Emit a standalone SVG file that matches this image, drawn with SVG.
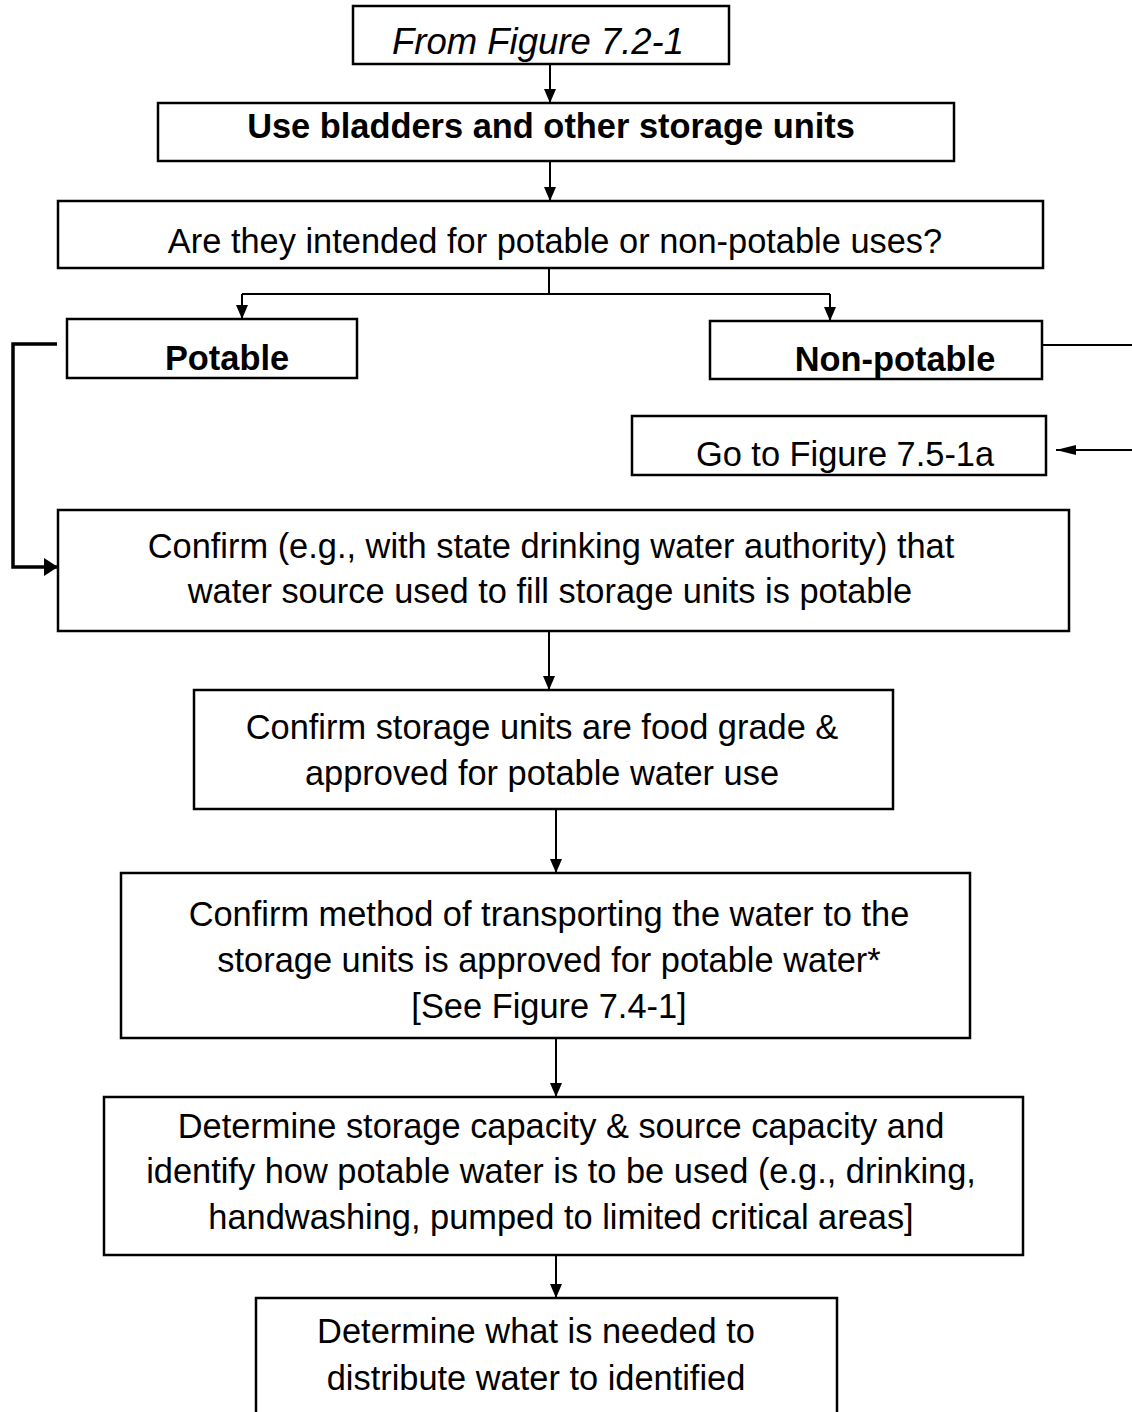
<svg xmlns="http://www.w3.org/2000/svg" width="1132" height="1412" viewBox="0 0 1132 1412">
<defs>
<marker id="ah" markerUnits="userSpaceOnUse" markerWidth="14" markerHeight="12" viewBox="0 0 14 12" refX="14" refY="6" orient="auto">
<path d="M0,0 L14,6 L0,12 Z" fill="#000"/>
</marker>
<marker id="ahb" markerUnits="userSpaceOnUse" markerWidth="14" markerHeight="18" viewBox="0 0 14 18" refX="14" refY="9" orient="auto">
<path d="M0,0 L14,9 L0,18 Z" fill="#000"/>
</marker>
<marker id="ahl" markerUnits="userSpaceOnUse" markerWidth="20" markerHeight="10" viewBox="0 0 20 10" refX="20" refY="5" orient="auto">
<path d="M0,0 L20,5 L0,10 Z" fill="#000"/>
</marker>
</defs>
<style>
.box{fill:#fff;stroke:#000;stroke-width:2.5}
.t{font-family:"Liberation Sans",Arial,sans-serif;font-size:34.4px;fill:#000;text-anchor:middle}
.b{font-weight:bold}
.i{font-style:italic;font-size:36.5px}
.c{fill:none;stroke:#000;stroke-width:2}
</style>
<rect width="1132" height="1412" fill="#fff"/>
<g id="connectors">
<line class="c" x1="550" y1="64" x2="550" y2="103" marker-end="url(#ah)"/>
<line class="c" x1="550" y1="161" x2="550" y2="201" marker-end="url(#ah)"/>
<polyline class="c" points="549,268 549,294"/>
<polyline class="c" points="242,294 830,294"/>
<line class="c" x1="242" y1="294" x2="242" y2="319" marker-end="url(#ah)"/>
<line class="c" x1="830" y1="294" x2="830" y2="321" marker-end="url(#ah)"/>
<polyline fill="none" stroke="#000" stroke-width="3.5" points="57,344 13,344 13,567 58,567" marker-end="url(#ahb)"/>
<line class="c" x1="1043" y1="345" x2="1132" y2="345"/>
<line class="c" x1="1132" y1="450" x2="1056" y2="450" marker-end="url(#ahl)"/>
<line class="c" x1="549" y1="631" x2="549" y2="690" marker-end="url(#ah)"/>
<line class="c" x1="556" y1="809" x2="556" y2="873" marker-end="url(#ah)"/>
<line class="c" x1="556" y1="1038" x2="556" y2="1097" marker-end="url(#ah)"/>
<line class="c" x1="556" y1="1255" x2="556" y2="1298" marker-end="url(#ah)"/>
</g>
<g id="from">
<rect class="box" x="353" y="6" width="376" height="58"/>
<text class="t i" x="538" y="54">From Figure 7.2-1</text>
</g>
<g id="use">
<rect class="box" x="158" y="103" width="796" height="58"/>
<text class="t b" x="551" y="138">Use bladders and other storage units</text>
</g>
<g id="question">
<rect class="box" x="58" y="201" width="985" height="67"/>
<text class="t" x="555" y="253">Are they intended for potable or non-potable uses?</text>
</g>
<g id="potable">
<rect class="box" x="67" y="319" width="290" height="59"/>
<text class="t b" x="227" y="370">Potable</text>
</g>
<g id="nonpotable">
<rect class="box" x="710" y="321" width="332" height="58"/>
<text class="t b" x="895" y="371">Non-potable</text>
</g>
<g id="goto">
<rect class="box" x="632" y="416" width="414" height="59"/>
<text class="t" x="845" y="466">Go to Figure 7.5-1a</text>
</g>
<g id="confirm-source">
<rect class="box" x="58" y="510" width="1011" height="121"/>
<text class="t" x="551" y="558">Confirm (e.g., with state drinking water authority) that</text>
<text class="t" x="550" y="603">water source used to fill storage units is potable</text>
</g>
<g id="confirm-units">
<rect class="box" x="194" y="690" width="699" height="119"/>
<text class="t" x="542" y="739">Confirm storage units are food grade &amp;</text>
<text class="t" x="542" y="785">approved for potable water use</text>
</g>
<g id="confirm-transport">
<rect class="box" x="121" y="873" width="849" height="165"/>
<text class="t" x="549" y="926">Confirm method of transporting the water to the</text>
<text class="t" x="549" y="972">storage units is approved for potable water*</text>
<text class="t" x="549" y="1018">[See Figure 7.4-1]</text>
</g>
<g id="determine-capacity">
<rect class="box" x="104" y="1097" width="919" height="158"/>
<text class="t" x="561" y="1138">Determine storage capacity &amp; source capacity and</text>
<text class="t" x="561" y="1183">identify how potable water is to be used (e.g., drinking,</text>
<text class="t" x="561" y="1229">handwashing, pumped to limited critical areas]</text>
</g>
<g id="determine-distribution">
<rect class="box" x="256" y="1298" width="581" height="140"/>
<text class="t" x="536" y="1343">Determine what is needed to</text>
<text class="t" x="536" y="1390">distribute water to identified</text>
</g>
</svg>
